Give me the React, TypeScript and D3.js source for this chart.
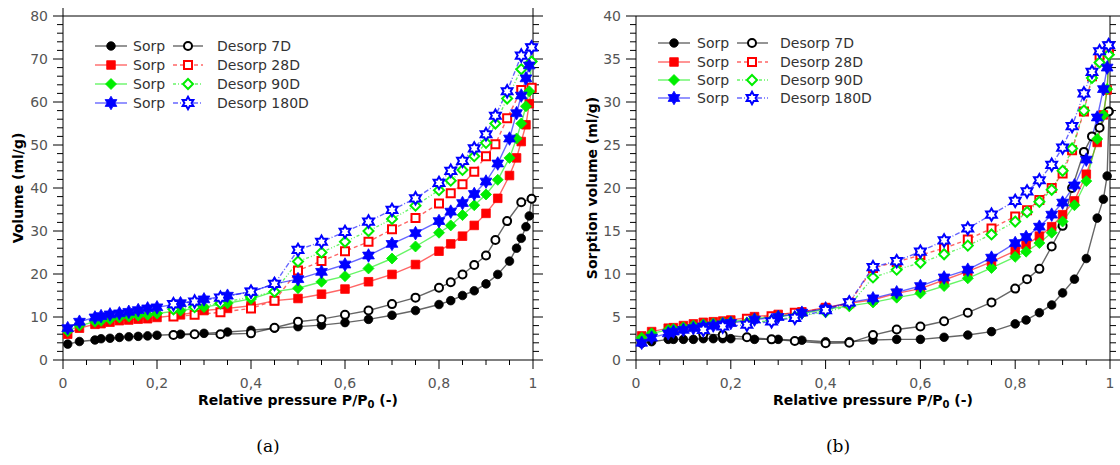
import React from 'react';
import * as d3 from 'd3';

// ---------- shared ticks ----------
const X_TICKS = [0, 0.2, 0.4, 0.6, 0.8, 1];
const X_TICK_LABELS = ['0', '0,2', '0,4', '0,6', '0,8', '1'];
const Y_TICKS_A = [0, 10, 20, 30, 40, 50, 60, 70, 80];
const Y_TICKS_B = [0, 5, 10, 15, 20, 25, 30, 35, 40];

// ---------- panel (a) ----------
const P_SORP_A = [0.01, 0.035, 0.068, 0.081, 0.10, 0.12, 0.14, 0.16, 0.18, 0.20, 0.25, 0.30, 0.35, 0.40, 0.45, 0.50, 0.55, 0.60, 0.65, 0.70, 0.75, 0.80, 0.825, 0.85, 0.875, 0.90, 0.925, 0.95, 0.965, 0.975, 0.985, 0.992, 0.997];
const SORP_7D_A = [3.7, 4.3, 4.65, 4.95, 5.05, 5.25, 5.4, 5.5, 5.6, 5.75, 6.0, 6.2, 6.5, 6.9, 7.4, 7.75, 8.1, 8.7, 9.45, 10.4, 11.5, 12.9, 13.8, 15.0, 16.1, 17.7, 19.9, 23.0, 26.0, 28.3, 31.0, 33.5, 37.5];
const SORP_28D_A = [6.0, 7.4, 8.3, 8.45, 8.8, 9.15, 9.3, 9.5, 9.6, 9.9, 10.5, 11.5, 12.0, 12.6, 13.8, 14.3, 15.3, 16.5, 18.2, 19.9, 22.2, 25.3, 27.0, 28.8, 31.3, 34.1, 37.6, 42.9, 47.0, 50.8, 54.7, 59.6, 63.3];
const SORP_90D_A = [6.7, 8.0, 8.9, 9.1, 9.5, 9.9, 10.1, 10.3, 10.5, 10.8, 11.5, 12.3, 13.2, 14.2, 15.9, 16.7, 18.2, 19.5, 21.3, 23.6, 26.4, 29.6, 31.3, 33.7, 36.0, 38.5, 41.9, 47.0, 51.5, 55.0, 59.0, 62.5, 69.4];
const SORP_180D_A = [7.4, 8.9, 9.9, 10.2, 10.6, 10.85, 11.2, 11.6, 12.0, 12.25, 13.2, 14.1, 14.95, 15.9, 17.7, 18.8, 20.5, 22.2, 24.3, 27.0, 29.5, 32.3, 34.5, 36.5, 38.6, 41.5, 45.7, 51.5, 57.4, 61.5, 65.5, 68.5, 72.7];

const P_DESORP_A = [0.997, 0.975, 0.945, 0.92, 0.90, 0.875, 0.85, 0.825, 0.80, 0.75, 0.70, 0.65, 0.60, 0.55, 0.50, 0.45, 0.40, 0.335, 0.28, 0.235];
const DESORP_7D_A = [37.5, 36.7, 32.3, 27.9, 24.3, 22.1, 19.9, 18.1, 16.8, 14.5, 13.0, 11.5, 10.5, 9.5, 8.9, 7.5, 6.2, 6.0, 6.0, 5.8];
const DESORP_28D_A = [63.3, 62.8, 56.2, 50.2, 47.4, 43.8, 40.9, 38.8, 36.4, 33.0, 30.4, 27.5, 25.3, 23.0, 20.8, 13.8, 12.0, 11.1, 10.5, 10.1];
const DESORP_90D_A = [69.4, 67.6, 60.8, 55.0, 50.5, 47.4, 44.2, 41.7, 39.5, 35.9, 32.8, 30.0, 27.5, 25.0, 22.9, 15.9, 14.7, 13.2, 12.3, 11.8];
const DESORP_180D_A = [72.7, 70.8, 62.5, 56.8, 52.5, 49.2, 46.3, 44.0, 41.2, 37.6, 34.9, 32.2, 29.8, 27.5, 25.6, 17.7, 15.9, 14.5, 13.6, 13.0];

// ---------- panel (b) ----------
const P_SORP_B = [0.012, 0.033, 0.068, 0.079, 0.10, 0.121, 0.142, 0.163, 0.183, 0.20, 0.25, 0.30, 0.35, 0.40, 0.45, 0.50, 0.55, 0.60, 0.65, 0.70, 0.75, 0.80, 0.823, 0.851, 0.877, 0.90, 0.925, 0.95, 0.973, 0.986, 0.994, 0.998];
const SORP_7D_B = [1.94, 2.13, 2.4, 2.4, 2.4, 2.4, 2.48, 2.48, 2.48, 2.48, 2.4, 2.4, 2.3, 2.13, 2.13, 2.33, 2.4, 2.4, 2.64, 2.9, 3.3, 4.2, 4.65, 5.5, 6.4, 7.8, 9.4, 11.8, 16.5, 18.7, 21.4, 28.9];
const SORP_28D_B = [2.8, 3.3, 3.7, 3.76, 4.0, 4.2, 4.38, 4.45, 4.53, 4.65, 5.04, 5.3, 5.6, 6.1, 6.6, 7.0, 7.75, 8.3, 9.3, 10.3, 11.4, 12.7, 13.4, 14.4, 15.5, 16.9, 18.5, 21.6, 25.3, 28.5, 31.4, 36.0];
const SORP_90D_B = [2.6, 3.1, 3.5, 3.6, 3.8, 4.0, 4.15, 4.25, 4.35, 4.45, 4.8, 5.1, 5.4, 5.9, 6.3, 6.7, 7.25, 7.75, 8.6, 9.5, 10.7, 12.0, 12.6, 13.6, 14.8, 16.1, 18.0, 20.8, 25.7, 28.5, 31.5, 35.5];
const SORP_180D_B = [2.0, 2.6, 3.1, 3.3, 3.5, 3.7, 3.9, 4.0, 4.15, 4.3, 4.7, 5.0, 5.5, 6.0, 6.7, 7.17, 7.87, 8.6, 9.6, 10.5, 11.9, 13.6, 14.3, 15.5, 16.9, 18.3, 20.3, 23.3, 28.2, 31.5, 34.0, 36.6];

const P_DESORP_B = [0.997, 0.978, 0.962, 0.945, 0.92, 0.90, 0.877, 0.851, 0.825, 0.80, 0.75, 0.70, 0.65, 0.60, 0.55, 0.50, 0.45, 0.40, 0.335, 0.286, 0.234, 0.183, 0.142];
const DESORP_7D_B = [28.9, 27.0, 26.0, 24.2, 20.0, 15.6, 13.2, 10.6, 9.4, 8.3, 6.7, 5.5, 4.5, 3.9, 3.55, 2.9, 2.0, 1.95, 2.2, 2.4, 2.65, 2.9, 3.0];
const DESORP_28D_B = [36.0, 35.4, 33.0, 28.9, 24.4, 21.7, 20.0, 18.6, 17.4, 16.7, 15.3, 14.0, 13.0, 12.2, 11.4, 10.7, 6.6, 6.0, 5.5, 5.1, 4.8, null, null];
const DESORP_90D_B = [35.5, 34.6, 32.8, 29.0, 24.6, 22.0, 19.8, 18.4, 17.2, 16.1, 14.6, 13.3, 12.3, 11.3, 10.5, 9.6, 6.3, 5.6, 5.0, 4.6, 4.3, null, null];
const DESORP_180D_B = [36.6, 35.9, 33.5, 31.0, 27.2, 24.7, 22.7, 20.9, 19.6, 18.5, 16.9, 15.3, 13.9, 12.6, 11.5, 10.8, 6.7, 5.8, 4.9, 4.5, 4.1, 3.9, 3.5];

// ---------- series styling ----------
type Marker = 'circle' | 'square' | 'diamond' | 'star';
interface Series {
  label: string;
  color: string;
  dash: string | null;
  marker: Marker;
  open: boolean;
  p: number[];
  v: (number | null)[];
}

const NAMES_SORP = ['Sorp', 'Sorp', 'Sorp', 'Sorp'];
const NAMES_DESORP = ['Desorp 7D', 'Desorp 28D', 'Desorp 90D', 'Desorp 180D'];
const COLORS = ['#000000', '#ff0000', '#00ee00', '#0000ff'];
const MARKERS: Marker[] = ['circle', 'square', 'diamond', 'star'];
const DASHES: (string | null)[] = [null, '4,3', '3,2,1,2,1,2', '5,2,1,2'];

function buildSeries(pS: number[], sorp: number[][], pD: number[], desorp: (number | null)[][]): Series[] {
  const out: Series[] = [];
  for (let i = 0; i < 4; i++) {
    out.push({ label: NAMES_SORP[i], color: COLORS[i], dash: null, marker: MARKERS[i], open: false, p: pS, v: sorp[i] });
    out.push({ label: NAMES_DESORP[i], color: COLORS[i], dash: DASHES[i], marker: MARKERS[i], open: true, p: pD, v: desorp[i] });
  }
  return out;
}

const SERIES_A = buildSeries(P_SORP_A, [SORP_7D_A, SORP_28D_A, SORP_90D_A, SORP_180D_A], P_DESORP_A, [DESORP_7D_A, DESORP_28D_A, DESORP_90D_A, DESORP_180D_A]);
const SERIES_B = buildSeries(P_SORP_B, [SORP_7D_B, SORP_28D_B, SORP_90D_B, SORP_180D_B], P_DESORP_B, [DESORP_7D_B, DESORP_28D_B, DESORP_90D_B, DESORP_180D_B]);

function markerPath(m: Marker, open: boolean): string {
  if (m === 'circle') {
    const r = open ? 4 : 4.3;
    return `M${-r},0A${r},${r} 0 1,0 ${r},0A${r},${r} 0 1,0 ${-r},0Z`;
  }
  if (m === 'square') {
    const s = open ? 4 : 4.3;
    return `M${-s},${-s}H${s}V${s}H${-s}Z`;
  }
  if (m === 'diamond') {
    const d = open ? 5 : 5.5;
    return `M0,${-d}L${d},0L0,${d}L${-d},0Z`;
  }
  const R = open ? 6.2 : 6.8;
  const r = R / Math.sqrt(3);
  const pts: string[] = [];
  for (let k = 0; k < 12; k++) {
    const a = -Math.PI / 2 + (k * Math.PI) / 6;
    const rr = k % 2 === 0 ? R : r;
    pts.push(`${(rr * Math.cos(a)).toFixed(2)},${(rr * Math.sin(a)).toFixed(2)}`);
  }
  return 'M' + pts.join('L') + 'Z';
}

const FONT = "'DejaVu Sans', Verdana, sans-serif";

interface PanelProps {
  left: number;
  right: number;
  top: number;
  bottom: number;
  ext: number;
  yMax: number;
  yTicks: number[];
  yMinor: number;
  yTitle: string;
  yTitleX: number;
  series: Series[];
  legend: { l1: number; l2: number; m: number; t: number; l1b: number; l2b: number; mb: number; tb: number; rows: number[] };
}

function Panel(props: PanelProps) {
  const { left, right, top, bottom, ext, yMax, yTicks, yMinor, yTitle, yTitleX, series, legend } = props;
  const x = d3.scaleLinear().domain([0, 1]).range([left, right]);
  const y = d3.scaleLinear().domain([0, yMax]).range([bottom, top]);
  const xMinor = d3.range(0, 1.0001, 0.05);
  const yMinors = d3.range(0, yMax + 0.0001, yMinor);

  const line = d3
    .line<[number, number | null]>()
    .defined((d) => d[1] != null)
    .x((d) => x(d[0]))
    .y((d) => y(d[1] as number));

  const tickColor = '#000';
  const labelColor = '#555';

  const drawMarker = (s: Series, cx: number, cy: number, key: string) => (
    <path
      key={key}
      d={markerPath(s.marker, s.open)}
      transform={`translate(${cx},${cy})`}
      fill={s.open ? '#fff' : s.color}
      stroke={s.color}
      strokeWidth={s.open ? 2 : 0.8}
    />
  );

  return (
    <g>
      {/* axis lines */}
      <line x1={left} x2={left} y1={top - ext} y2={bottom} stroke={tickColor} strokeWidth={1} />
      <line x1={right} x2={right} y1={top - ext} y2={bottom} stroke={tickColor} strokeWidth={1} />
      <line x1={left} x2={right} y1={bottom} y2={bottom} stroke={tickColor} strokeWidth={1} />
      <line x1={left} x2={right} y1={top} y2={top} stroke={tickColor} strokeWidth={1} />
      {/* x minor / major ticks */}
      {xMinor.map((t, i) => {
        const major = Math.abs(t * 5 - Math.round(t * 5)) < 1e-6;
        return <line key={'xm' + i} x1={x(t)} x2={x(t)} y1={bottom} y2={bottom + (major ? 9 : 5)} stroke={tickColor} />;
      })}
      {X_TICKS.map((t, i) => (
        <text key={'xl' + i} x={x(t)} y={bottom + 28} textAnchor="middle" fontFamily={FONT} fontSize={14} fill={labelColor}>
          {X_TICK_LABELS[i]}
        </text>
      ))}
      {/* y ticks */}
      {yMinors.map((t, i) => {
        const major = yTicks.some((m) => Math.abs(m - t) < 1e-6);
        return (
          <g key={'ym' + i}>
            <line x1={left - (major ? 10 : 6)} x2={left} y1={y(t)} y2={y(t)} stroke={tickColor} />
            <line x1={right} x2={right + (major ? 10 : 6)} y1={y(t)} y2={y(t)} stroke={tickColor} />
          </g>
        );
      })}
      {yTicks.map((t, i) => (
        <text key={'yl' + i} x={left - 15} y={y(t) + 5} textAnchor="end" fontFamily={FONT} fontSize={14} fill={labelColor}>
          {t}
        </text>
      ))}
      {/* titles */}
      <text
        transform={`translate(${yTitleX},${(top + bottom) / 2}) rotate(-90)`}
        textAnchor="middle"
        fontFamily={FONT}
        fontWeight="bold"
        fontSize={14}
        fill="#000"
      >
        {yTitle}
      </text>
      <text x={(left + right) / 2} y={bottom + 45} textAnchor="middle" fontFamily={FONT} fontWeight="bold" fontSize={14} fill="#000">
        Relative pressure P/P<tspan fontSize={10} dy={3}>0</tspan>
        <tspan dy={-3}> (-)</tspan>
      </text>
      {/* data lines */}
      {series.map((s, i) => (
        <path
          key={'ln' + i}
          d={line(s.p.map((p, j) => [p, s.v[j]] as [number, number | null])) || ''}
          fill="none"
          stroke={s.color}
          strokeOpacity={0.6}
          strokeWidth={1.4}
          strokeDasharray={s.dash || undefined}
        />
      ))}
      {/* markers */}
      {series.map((s, i) => (
        <g key={'mk' + i}>
          {s.p.map((p, j) => (s.v[j] == null ? null : drawMarker(s, x(p), y(s.v[j] as number), `m${i}-${j}`)))}
        </g>
      ))}
      {/* legend */}
      {[0, 1, 2, 3].map((r) => {
        const sS = series[r * 2];
        const sD = series[r * 2 + 1];
        const yy = legend.rows[r];
        return (
          <g key={'lg' + r}>
            <line x1={legend.l1} x2={legend.l2} y1={yy} y2={yy} stroke={sS.color} strokeOpacity={0.6} strokeWidth={1.4} />
            {drawMarker(sS, legend.m, yy, 'lgs' + r)}
            <text x={legend.t} y={yy + 5} fontFamily={FONT} fontSize={14} fill="#333">
              {sS.label}
            </text>
            <line
              x1={legend.l1b}
              x2={legend.l2b}
              y1={yy}
              y2={yy}
              stroke={sD.color}
              strokeOpacity={0.6}
              strokeWidth={1.4}
              strokeDasharray={sD.dash || undefined}
            />
            {drawMarker(sD, legend.mb, yy, 'lgd' + r)}
            <text x={legend.tb} y={yy + 5} fontFamily={FONT} fontSize={14} fill="#333">
              {sD.label}
            </text>
          </g>
        );
      })}
    </g>
  );
}

export default function App() {
  return (
    <svg
      width={1120}
      height={465}
      viewBox="0 0 1120 465"
      style={{ position: 'absolute', left: 0, top: 0, background: '#fff' }}
    >
      <rect x={0} y={0} width={1120} height={465} fill="#fff" />
      <Panel
        left={63}
        right={533}
        top={16}
        bottom={360}
        ext={8}
        yMax={80}
        yTicks={Y_TICKS_A}
        yMinor={2}
        yTitle="Volume (ml/g)"
        yTitleX={23}
        series={SERIES_A}
        legend={{ l1: 95, l2: 127, m: 111, t: 133, l1b: 173, l2b: 203, mb: 188, tb: 217, rows: [46, 65, 84, 103] }}
      />
      <Panel
        left={636}
        right={1110}
        top={16}
        bottom={360}
        ext={0}
        yMax={40}
        yTicks={Y_TICKS_B}
        yMinor={1}
        yTitle="Sorption volume (ml/g)"
        yTitleX={597}
        series={SERIES_B}
        legend={{ l1: 658, l2: 690, m: 674, t: 697, l1b: 737, l2b: 768, mb: 752, tb: 780, rows: [43, 62, 80, 98] }}
      />
      <text x={268} y={452} textAnchor="middle" fontFamily="'DejaVu Serif', 'Liberation Serif', serif" fontSize={17} fill="#000">
        (a)
      </text>
      <text x={838} y={452} textAnchor="middle" fontFamily="'DejaVu Serif', 'Liberation Serif', serif" fontSize={17} fill="#000">
        (b)
      </text>
    </svg>
  );
}
